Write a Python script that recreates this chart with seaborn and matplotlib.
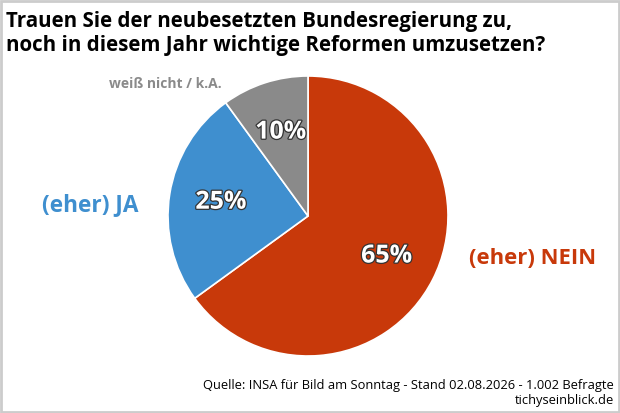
import matplotlib
matplotlib.use("Agg")
import matplotlib.pyplot as plt
import matplotlib.patheffects as pe
from matplotlib.patches import Rectangle
import seaborn as sns

# data
categories = ["(eher) NEIN", "(eher) JA", "weiß nicht / k.A."]
values = [65, 25, 10]
colors = ["#C8390A", "#3F8FCF", "#8A8A8A"]

title = "Trauen Sie der neubesetzten Bundesregierung zu,\nnoch in diesem Jahr wichtige Reformen umzusetzen?"
source = "Quelle: INSA für Bild am Sonntag - Stand 02.08.2026 - 1.002 Befragte\ntichyseinblick.de"

sns.set_theme(style="white")
plt.rcParams['font.family'] = ['Open Sans', 'DejaVu Sans']

W, H = 620, 413
fig = plt.figure(figsize=(W / 100, H / 100), dpi=100, facecolor='white')

# pie axes: center (308, 216), radius ~140 px
cx, cy, r = 308, 216, 140
ax = fig.add_axes([(cx - r) / W, 1 - (cy + r) / H, 2 * r / W, 2 * r / H])
wedges, texts, autotexts = ax.pie(
    values, colors=colors, startangle=90, counterclock=False,
    autopct=lambda p: f"{p:.0f}%", pctdistance=0.63,
    wedgeprops=dict(edgecolor='white', linewidth=1.2),
    textprops=dict(color='white', fontsize=18, fontweight='bold'))
for t in autotexts:
    t.set_path_effects([pe.withStroke(linewidth=1.8, foreground='#333333')])
ax.set_aspect('equal')
ax.set_xlim(-1, 1)
ax.set_ylim(-1, 1)

# outer labels
fig.text(533 / W, 1 - 258 / H, categories[0], color=colors[0], fontsize=15.8,
         fontweight='bold', ha='center', va='center')
fig.text(90 / W, 1 - 205 / H, categories[1], color=colors[1], fontsize=16.3,
         fontweight='bold', ha='center', va='center')
fig.text(165 / W, 1 - 84 / H, categories[2], color=colors[2], fontsize=10,
         fontweight='bold', ha='center', va='center')

fig.text(6 / W, 1 - 11 / H, title, fontsize=14.8, fontweight='bold', color='black',
         ha='left', va='top', linespacing=1.2)
fig.text(614 / W, 1 - 407 / H, source, fontsize=9.3, color='black',
         ha='right', va='bottom', linespacing=1.25)

fig.patches.append(Rectangle((0.002, 0.003), 0.996, 0.994, transform=fig.transFigure,
                             fill=False, edgecolor='#cccccc', linewidth=2))

fig.savefig("out.png", dpi=100, facecolor='white')
